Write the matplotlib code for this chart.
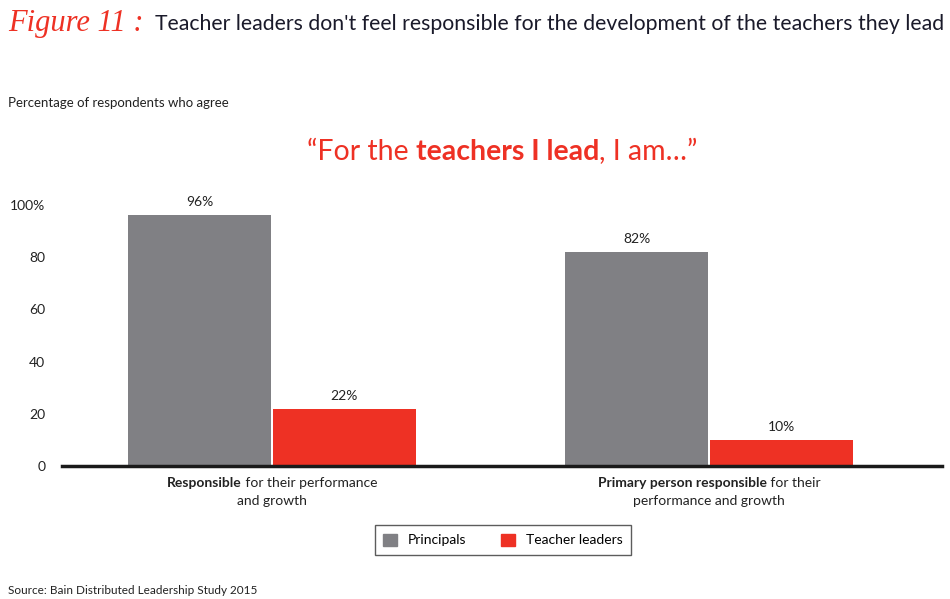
import numpy as np
import matplotlib
matplotlib.use("Agg")
import matplotlib.pyplot as plt
from matplotlib.patches import Patch
from matplotlib import rcParams

rcParams['font.family'] = ['Lato', 'DejaVu Sans']
rcParams['font.size'] = 10

# Data
groups = [[("Responsible", "bold"), (" for their performance", "normal")],
          [("and growth", "normal")]]
groups2 = [[("Primary person responsible", "bold"), (" for their", "normal")],
           [("performance and growth", "normal")]]
category_labels = [groups, groups2]
series_names = ["Principals", "Teacher leaders"]
principals = [96, 82]
teacher_leaders = [22, 10]
yticks = [0, 20, 40, 60, 80, 100]
ytick_labels = ["0", "20", "40", "60", "80", "100%"]

gray = '#808084'
red = '#ee3124'
W, H = 950, 599

fig = plt.figure(figsize=(W / 100, H / 100), dpi=100)
ax = fig.add_axes([62 / W, 1 - 466 / H, 880 / W, 261 / H])

x = np.arange(len(principals))
bw = 0.327
b1 = ax.bar(x - bw / 2 - 0.002, principals, bw, color=gray, label=series_names[0])
b2 = ax.bar(x + bw / 2 + 0.002, teacher_leaders, bw, color=red, label=series_names[1])
for bars in (b1, b2):
    for b in bars:
        ax.annotate(f"{b.get_height():.0f}%", (b.get_x() + b.get_width() / 2, b.get_height()),
                    xytext=(0, 5), textcoords='offset points', ha='center', va='bottom',
                    fontsize=10, color='#222')

ax.set_xlim(-0.4805, 1.533)
ax.set_ylim(0, 100)
ax.set_yticks(yticks)
ax.set_yticklabels(ytick_labels)
ax.tick_params(axis='y', length=0, pad=12, labelsize=10, labelcolor='#222')
ax.set_xticks([])
for s in ['top', 'right', 'left']:
    ax.spines[s].set_visible(False)
ax.spines['bottom'].set_linewidth(2.5)
ax.spines['bottom'].set_color('#1a1a1a')

renderer = fig.canvas.get_renderer()


def rich_line(xc, y, pieces, size, color, ha='center'):
    # draw a line of text pieces with mixed weights, x/y in pixels from top-left
    texts = []
    total = 0
    for s, w in pieces:
        t = fig.text(0, 0, s, fontsize=size, fontweight=w, color=color,
                     va='baseline', ha='left', transform=None)
        wpx = t.get_window_extent(renderer).width
        texts.append((t, wpx))
        total += wpx
    x0 = xc - total / 2 if ha == 'center' else xc
    for t, wpx in texts:
        t.set_position((x0, H - y))
        x0 += wpx


# title
fig.text(8, H - 31, "Figure 11 :", fontsize=22, style='italic', color=red,
         family='Liberation Serif', transform=None, va='baseline')
fig.text(155, H - 30, "Teacher leaders don't feel responsible for the development of the teachers they lead",
         fontsize=15.3, color='#1a1a2a', transform=None, va='baseline')
fig.text(8, H - 107, "Percentage of respondents who agree", fontsize=9.5, color='#222',
         transform=None, va='baseline')

rich_line(502, 160, [("\u201cFor the ", "normal"), ("teachers I lead", "bold"),
                     (", I am\u2026\u201d", "normal")], 20.5, red)

centers = [272, 709]
for xc, lines in zip(centers, category_labels):
    for i, line in enumerate(lines):
        rich_line(xc, 487 + i * 18, line, 10, '#222')

handles = [Patch(facecolor=gray, edgecolor=gray), Patch(facecolor=red, edgecolor=red)]
leg = fig.legend(handles, series_names, loc='center', bbox_to_anchor=(503 / W, 1 - 540 / H),
                 ncol=2, frameon=True, fancybox=False, fontsize=10, handlelength=1,
                 handleheight=1, columnspacing=2.5, handletextpad=0.8, borderpad=0.6)
leg.get_frame().set_edgecolor('#333')
leg.get_frame().set_linewidth(1)

fig.text(8, H - 594, "Source: Bain Distributed Leadership Study 2015", fontsize=8.5, color='#222',
         transform=None, va='baseline')

fig.savefig("out.png", dpi=100)
